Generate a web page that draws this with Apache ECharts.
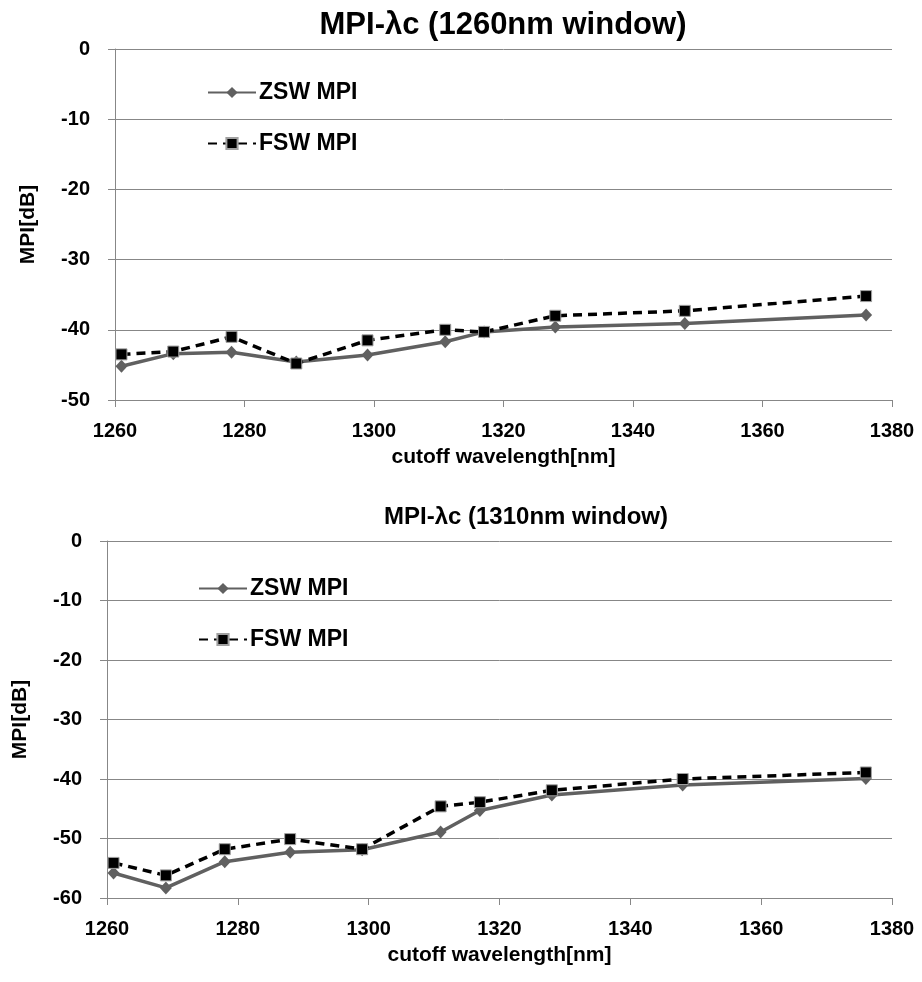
<!DOCTYPE html>
<html><head><meta charset="utf-8">
<script src="https://cdn.jsdelivr.net/npm/echarts@6/dist/echarts.min.js"></script>
<style>body{margin:0;background:#fff}#c{width:922px;height:982px}</style>
</head><body><div id="c"></div><script>
// Data
var wavelengths = [1261, 1269, 1278, 1288, 1299, 1311, 1317, 1328, 1348, 1376];
var zsw1260 = [-45.2, -43.4, -43.2, -44.6, -43.6, -41.7, -40.3, -39.6, -39.1, -37.9];
var fsw1260 = [-43.5, -43.1, -41.0, -44.8, -41.5, -40.0, -40.3, -38.0, -37.3, -35.2];
var zsw1310 = [-55.8, -58.3, -53.9, -52.3, -51.9, -48.9, -45.3, -42.7, -41.0, -39.9];
var fsw1310 = [-54.1, -56.2, -51.8, -50.1, -51.8, -44.6, -43.9, -41.9, -40.0, -38.9];
var titles = ['MPI-\u03bbc (1260nm window)', 'MPI-\u03bbc (1310nm window)'];
var seriesNames = ['ZSW MPI', 'FSW MPI'];
var xName = 'cutoff wavelength[nm]';
var yName = 'MPI[dB]';

function pairs(xs, ys){ return xs.map(function(x,i){ return [x, ys[i]]; }); }
var FONT = '"Liberation Sans", Arial, sans-serif';
var axisGray = '#878787';

function xAx(idx){
  return {gridIndex: idx, type:'value', min:1260, max:1380, interval:20,
    name:xName, nameLocation:'middle', nameGap:47,
    nameTextStyle:{fontFamily:FONT, fontWeight:'bold', fontSize:21, color:'#000'},
    axisLine:{onZero:false, lineStyle:{color:axisGray, width:1}},
    axisTick:{show:true, inside:false, length:7, lineStyle:{color:axisGray}},
    axisLabel:{fontFamily:FONT, fontWeight:'bold', fontSize:20, color:'#000', margin:21,
      formatter:function(v){return String(v);}},
    splitLine:{show:false}};
}
function yAx(idx, min){
  return {gridIndex: idx, type:'value', min:min, max:0, interval:10,
    name:yName, nameLocation:'middle', nameGap:76,
    nameTextStyle:{fontFamily:FONT, fontWeight:'bold', fontSize:21, color:'#000'},
    axisLine:{show:true, lineStyle:{color:axisGray, width:1}},
    axisTick:{show:true, inside:false, length:7, lineStyle:{color:axisGray}},
    axisLabel:{fontFamily:FONT, fontWeight:'bold', fontSize:20, color:'#000', margin:25,
      formatter:function(v){return String(v);}},
    splitLine:{show:true, lineStyle:{color:axisGray, width:1}}};
}
function zsw(idx, ys){
  return {name:seriesNames[0], type:'line', xAxisIndex:idx, yAxisIndex:idx, data:pairs(wavelengths, ys),
    symbol:'diamond', symbolSize:[12,13], color:'#606060',
    itemStyle:{color:'#606060'}, lineStyle:{color:'#606060', width:3.5, type:'solid'}, z:2};
}
function fsw(idx, ys){
  return {name:seriesNames[1], type:'line', xAxisIndex:idx, yAxisIndex:idx, data:pairs(wavelengths, ys),
    symbol:'rect', symbolSize:11, color:'#000',
    itemStyle:{color:'#000', borderColor:'#a0a0a0', borderWidth:1},
    lineStyle:{color:'#000', width:3.5, type:[9,6]}, z:3};
}
function leg(top, left){
  return {show:true, orient:'vertical', left:left, top:top, padding:0, itemGap:28, itemWidth:48, itemHeight:14,
    data:seriesNames.map(function(n){return {name:n};}),
    textStyle:{fontFamily:FONT, fontWeight:'bold', fontSize:23, lineHeight:14, color:'#000', padding:[0,0,0,-2]}};
}
var ch = echarts.init(document.getElementById('c'), null, {renderer:'canvas'});
ch.setOption({
  animation:false,
  backgroundColor:'#fff',
  title:[
    {text:titles[0], left:503, top:10, padding:0, textAlign:'center',
     textStyle:{fontFamily:FONT, fontWeight:'bold', fontSize:31, color:'#000'}},
    {text:titles[1], left:526, top:505, padding:0, textAlign:'center',
     textStyle:{fontFamily:FONT, fontWeight:'bold', fontSize:24, color:'#000'}}
  ],
  legend:[leg(81, 207), leg(577, 198)],
  grid:[
    {left:115, right:30, top:49, height:351},
    {left:107, right:30, top:541, height:357}
  ],
  xAxis:[xAx(0), xAx(1)],
  yAxis:[yAx(0,-50), yAx(1,-60)],
  series:[zsw(0, zsw1260), fsw(0, fsw1260), zsw(1, zsw1310), fsw(1, fsw1310)]
});
</script></body></html>
